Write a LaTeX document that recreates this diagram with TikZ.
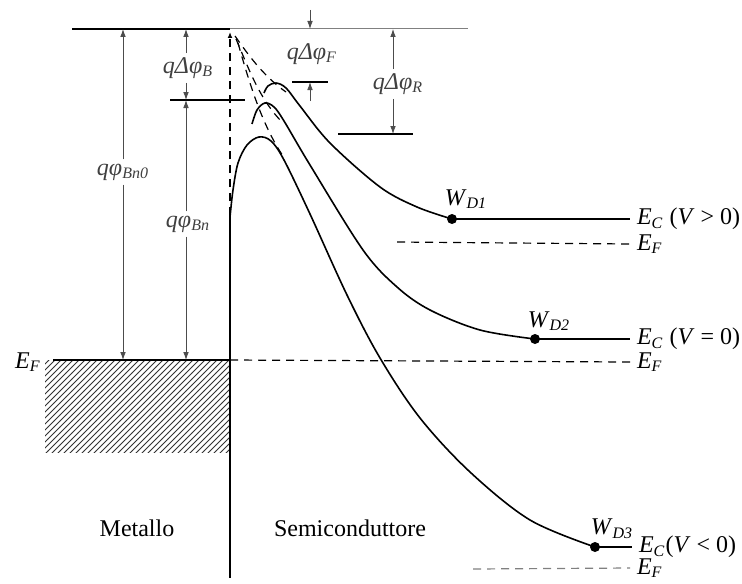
\documentclass[tikz,border=0pt]{standalone}
\usepackage{fontspec}
\setmainfont{Liberation Serif}
\usetikzlibrary{patterns,arrows.meta}
\newcommand{\lb}[2]{\textit{#1}\textsubscript{\textit{#2}}}
\begin{document}
\begin{tikzpicture}[x=0.5pt, y=-0.5pt, >={Latex[length=4pt,width=2.8pt]},
  font=\fontsize{12}{14}\selectfont,
  band/.style={line width=0.8pt},
  dsh/.style={line width=0.6pt, dash pattern=on 4pt off 3pt},
  dim/.style={gray!60!black, line width=0.4pt},
  qlab/.style={gray!50!black, inner sep=2pt},
  dot/.style={circle, fill, inner sep=0pt, minimum size=5pt}]
  \useasboundingbox (0,0) rectangle (742,583);
  \fill[white] (0,0) rectangle (742,583);
  % metal side
  \fill[pattern=north east lines, pattern color=black!80] (45,360) rectangle (230,452);
  \draw[line width=1pt] (53,360) -- (230,360);
  \draw[line width=1pt] (230,215) -- (230,452);
  \draw[line width=0.6pt] (230,452) -- (230,578);
  \draw[dsh, -{Latex[length=3pt,width=2.4pt]}] (230,215) -- (230,32);
  \draw[band] (72,29) -- (230,29);
  \draw[gray, line width=0.5pt] (230,29) -- (468,29);
  % barrier levels
  \draw[band] (170,100) -- (245,100);
  \draw[band] (292,82) -- (328,82);
  \draw[band] (338,134) -- (413,134);
  % bands
  \draw[band] plot[smooth, tension=0.55] coordinates {(264,93) (268,86) (276,83) (286,88) (300,106) (330,143) (380,187) (417,207) (452,219)};
  \draw[band] plot[smooth, tension=0.55] coordinates {(252,124) (257,110) (265,103) (274,107) (284,121) (310,165) (363,250) (397,287) (430,310) (480,330) (535,339)};
  \draw[band] plot[smooth, tension=0.55] coordinates {(230,217) (233,190) (238,163) (247,145) (259,137) (271,141) (284,160) (310,214) (347,295) (380,358) (420,418) (470,472) (530,520) (595,547)};
  \draw[dsh] (235,36) .. controls (247,53) and (263,76) .. (286,92);
  \draw[dsh] (236,39) .. controls (247,64) and (258,97) .. (281,121);
  \draw[dsh] (238,43) .. controls (249,82) and (262,125) .. (283,156);
  % depletion edges
  \node[dot] (wd1) at (452,219) {};
  \node[dot] (wd2) at (535,339) {};
  \node[dot] (wd3) at (595,547) {};
  \node (lw1) at (466,199) {\lb{W}{D1}};
  \node (lw2) at (549,321) {\lb{W}{D2}};
  \node (lw3) at (612,529) {\lb{W}{D3}};
  \node[anchor=west] (ec1) at (630,219) {\lb{E}{C} (\textit{V} > 0)};
  \node[anchor=west] (ec2) at (630,339) {\lb{E}{C} (\textit{V} = 0)};
  \node[anchor=west] (ec3) at (632,547) {\lb{E}{C}(\textit{V} < 0)};
  \draw[band] (wd1.center) -- (ec1.west);
  \draw[band] (wd2.center) -- (ec2.west);
  \draw[band] (wd3.center) -- (ec3.west);
  % Fermi levels
  \coordinate (f1) at (397,242);
  \coordinate (f2) at (230,360);
  \coordinate (f3) at (473,569);
  \node[anchor=west] (ef1) at (630,244) {\lb{E}{F}};
  \node[anchor=west] (ef2) at (630,362) {\lb{E}{F}};
  \node[anchor=west] (ef3) at (630,568) {\lb{E}{F}};
  \node (ef0) at (28,362) {\lb{E}{F}};
  \draw[dsh] (f1) -- (ef1.west);
  \draw[dsh] (f2) -- (ef2.west);
  \draw[dsh, gray] (f3) -- (ef3.west);
  % barrier heights
  \coordinate (b0t) at (123,29);
  \coordinate (b0b) at (123,360);
  \coordinate (bBt) at (186,29);
  \coordinate (bBm) at (186,100);
  \coordinate (bBb) at (186,360);
  \coordinate (bFa) at (310,10);
  \coordinate (bFt) at (310,29);
  \coordinate (bFb) at (310,101);
  \coordinate (bFm) at (310,82);
  \coordinate (bRt) at (393,29);
  \coordinate (bRb) at (393,134);
  \node[qlab] (qb0) at (123,172) {\lb{qφ}{Bn0}};
  \node[qlab] (qdb) at (188,68) {\lb{qΔφ}{B}};
  \node[qlab] (qbn) at (188,224) {\lb{qφ}{Bn}};
  \node[qlab] (qdf) at (312,54) {\lb{qΔφ}{F}};
  \node[qlab] (qdr) at (398,84) {\lb{qΔφ}{R}};
  \draw[dim, ->] (qb0) -- (b0t);
  \draw[dim, ->] (qb0) -- (b0b);
  \draw[dim, ->] (qdb.north -| bBt) -- (bBt);
  \draw[dim, ->] (qdb.south -| bBt) -- (bBm);
  \draw[dim, ->] (qbn.north -| bBt) -- (bBm);
  \draw[dim, ->] (qbn.south -| bBt) -- (bBb);
  \draw[dim, ->] (bFa) -- (bFt);
  \draw[dim, ->] (bFb) -- (bFm);
  \draw[dim, ->] (qdr.north -| bRt) -- (bRt);
  \draw[dim, ->] (qdr.south -| bRt) -- (bRb);
  \node (met) at (137,528) {Metallo};
  \node (sem) at (350,528) {Semiconduttore};
\end{tikzpicture}
\end{document}
